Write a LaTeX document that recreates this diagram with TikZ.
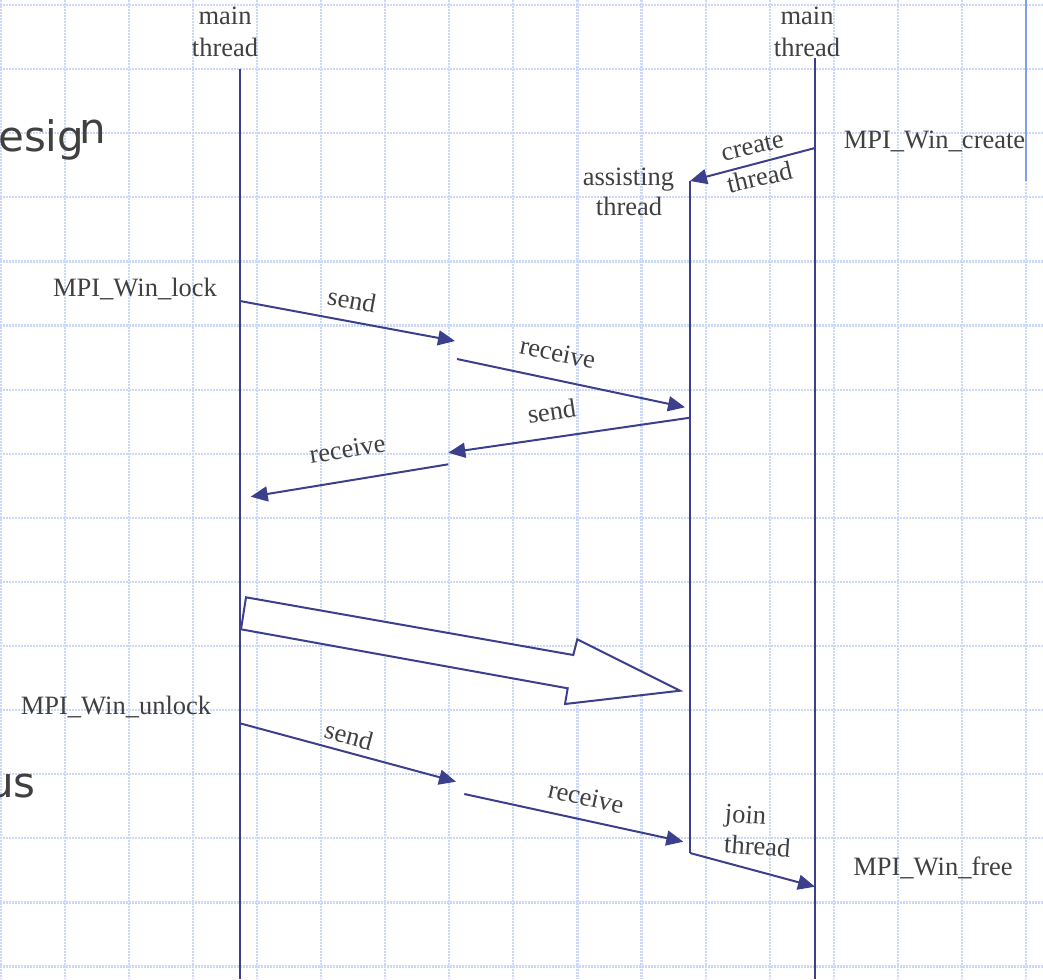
\documentclass[tikz,border=0pt]{standalone}
\usepackage{fontspec}
\setmainfont{Liberation Serif}
\newfontfamily\titlefont{DejaVu Sans}
\usetikzlibrary{arrows.meta}
\definecolor{lifeblue}{HTML}{3B3F8C}
\definecolor{gridblue}{HTML}{CCD8F9}
\definecolor{inkgray}{HTML}{404040}
\definecolor{railblue}{HTML}{809DF2}

\begin{document}
\begin{tikzpicture}[x=1pt,y=-1pt,
  lbl/.style={font=\fontsize{26.5}{30}\selectfont, text=inkgray, inner sep=0pt},
  slidetxt/.style={font=\titlefont\fontsize{42}{48}\selectfont, text=inkgray, inner sep=0pt},
  lifeline/.style={draw=lifeblue, line width=2pt},
  msg/.style={draw=lifeblue, line width=2pt, -{Triangle[length=17pt,width=15pt]}},
  gridline/.style={draw=gridblue, line width=2.2pt, dash pattern=on 1.6pt off 1.4pt}]
\useasboundingbox (0,0) rectangle (1043,979);

% background grid
\foreach \k in {0,...,16} { \draw[gridline] ({0.5+64.1*\k},0) -- ({0.5+64.1*\k},979); }
\foreach \k in {0,...,15} { \draw[gridline] (0,{5+64.1*\k}) -- (1043,{5+64.1*\k}); }
\draw[railblue, line width=2pt] (1025.7,0) -- (1025.7,181);

% slide title fragments
\node[slidetxt, anchor=base west] (ttl1) at (-2,151.5) {esig};
\node[slidetxt, anchor=base west] (ttl2) at (79,143) {n};
\node[slidetxt, anchor=base east] (ttl3) at (36,797) {us};

% thread headers
\node[lbl, anchor=base] (mainA1) at (225,25) {main};
\node[lbl, anchor=base] (mainA2) at (225,56.5) {thread};
\node[lbl, anchor=base] (mainB1) at (807,25) {main};
\node[lbl, anchor=base] (mainB2) at (807,56.5) {thread};
\node[lbl, anchor=base] (asst1) at (628.5,185) {assisting};
\node[lbl, anchor=base] (asst2) at (629,215) {thread};

% lifelines
\coordinate (Atop) at (240,69);   \coordinate (Abot) at (240,979);
\coordinate (Btop) at (815,58);   \coordinate (Bbot) at (815,979);
\coordinate (Ctop) at (690,181);  \coordinate (Cbot) at (690,853);
\draw[lifeline] (Atop) -- (Abot);
\draw[lifeline] (Btop) -- (Bbot);
\draw[lifeline] (Ctop) -- (Cbot);

% MPI calls
\node[lbl, anchor=base] (wcreate) at (934.5,148.3) {MPI\_Win\_create};
\node[lbl, anchor=base] (wlock) at (135,296.7) {MPI\_Win\_lock};
\node[lbl, anchor=base] (wunlock) at (116,714) {MPI\_Win\_unlock};
\node[lbl, anchor=base] (wfree) at (933,875) {MPI\_Win\_free};

% thread creation
\coordinate (cr1) at (815,148);
\draw[msg] (cr1) -- (Ctop);
\node[lbl, rotate=13] (crl1) at (752.5,147) {create};
\node[lbl, rotate=13] (crl2) at (759.5,177) {thread};

% lock handshake
\coordinate (l1) at (240,301);   \coordinate (l2) at (455,341);
\coordinate (l3) at (457,359);   \coordinate (l4) at (685,407.3);
\coordinate (l5) at (690,417.7); \coordinate (l6) at (448.3,452.7);
\coordinate (l7) at (448.3,464.3); \coordinate (l8) at (250.7,496.7);
\draw[msg] (l1) -- (l2);
\draw[msg] (l3) -- (l4);
\draw[msg] (l5) -- (l6);
\draw[msg] (l7) -- (l8);
\node[lbl, rotate=-10.5] (sd1) at (352,300) {send};
\node[lbl, rotate=-11.5] (rc1) at (557.7,353) {receive};
\node[lbl, rotate=8.5] (sd2) at (551.7,411) {send};
\node[lbl, rotate=9] (rc2) at (347.3,449) {receive};

% one-sided transfer
\draw[draw=lifeblue, line width=2pt, fill=white, line join=miter]
  (246,597.3) -- (573.3,655) -- (577.3,639.3) -- (680,690.7)
  -- (565,704) -- (567.7,688.3) -- (241,629.3) -- cycle;

% unlock handshake
\coordinate (u1) at (240,723.3);  \coordinate (u2) at (456,781.7);
\coordinate (u3) at (464.3,794);  \coordinate (u4) at (683.3,841.7);
\draw[msg] (u1) -- (u2);
\draw[msg] (u3) -- (u4);
\node[lbl, rotate=-15] (sd3) at (349,735.5) {send};
\node[lbl, rotate=-12.5] (rc3) at (586,797) {receive};

% thread join
\coordinate (jn) at (815,886.7);
\draw[msg] (Cbot) -- (jn);
\node[lbl, anchor=base, rotate=-4] (jl1) at (745,823.3) {join};
\node[lbl, anchor=base, rotate=-4] (jl2) at (756.7,855) {thread};
\end{tikzpicture}
\end{document}
